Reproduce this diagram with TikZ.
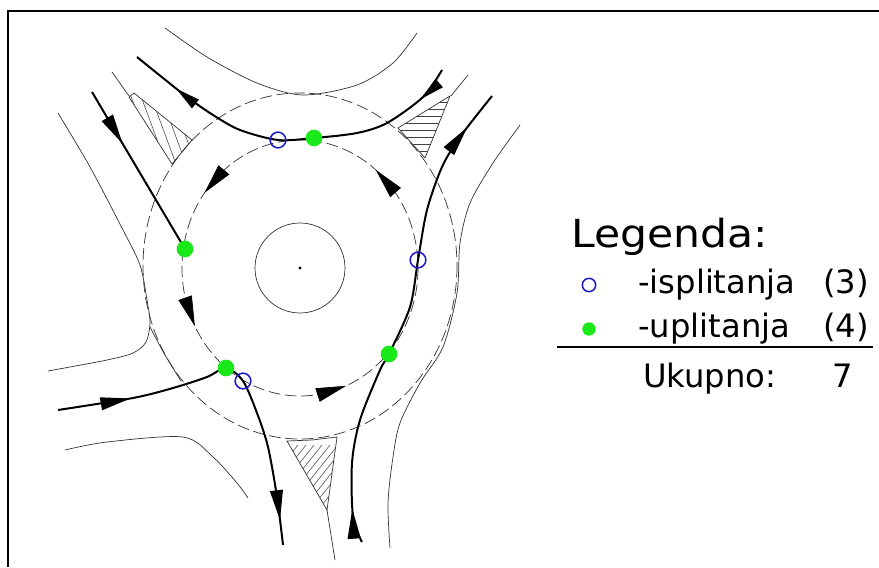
\documentclass[tikz,border=0pt]{standalone}
\usepackage{fontspec}
\setmainfont{DejaVu Sans}
\usetikzlibrary{arrows.meta,decorations.markings}

\definecolor{mergegreen}{RGB}{25,232,25}
\definecolor{splitblue}{RGB}{25,25,200}

\begin{document}
\begin{tikzpicture}[x=0.03cm, y=-0.03cm,
        road/.style = {black!80, line width=0.6pt},
        ring/.style = {black!80, line width=0.6pt, dash pattern=on 10pt off 4pt},
        hatch/.style = {black!75, line width=0.45pt},
        track/.style = {line width=1.7pt, postaction=decorate},
        split/.style = {circle, draw=splitblue, line width=1.3pt, inner sep=0pt, minimum size=0.47cm},
        merge/.style = {circle, fill=mergegreen, inner sep=0pt, minimum size=0.5cm},
        legtext/.style = {inner sep=0pt, font=\fontsize{27.5}{32}\selectfont},
        >={Triangle[length=0.9cm, width=0.38cm]}]
        \useasboundingbox (0,0) rectangle (879,567);

        % frame, top and left only
        \draw[line width=2.3pt] (8,567) -- (8,11) -- (879,11);

        %define centre and radii of the circulating lane
        \coordinate (O) at (300,268);
        \def\rx{118}
        \def\ry{128}

        % central island
        \draw[road] (O) circle [radius=45];
        \fill (O) circle [radius=1.6];

        % inner and outer edge of the lane
        \draw[ring] (O) ellipse [x radius=\rx, y radius=\ry];
        \draw[ring] (300,266) ellipse [x radius=157, y radius=173];

        % kerbs between the legs
        \draw[road] plot[smooth] coordinates {(165,28) (207,57) (257,83) (303,95) (357,85) (393,63) (417,33)};
        \draw[road] plot[smooth] coordinates {(58,113) (90,167) (122,228) (140,265) (147,300) (150,323) (146,342) (133,353) (107,360) (48,371)};
        \draw[road] plot[smooth] coordinates {(150,327) (165,355) (181,381)};
        \draw[road] plot[smooth] coordinates {(65,450) (107,442) (183,437) (213,457) (237,483) (248,498)};
        \draw[road] plot[smooth] coordinates {(520,125) (493,163) (470,203) (460,243) (457,293) (443,347) (420,383) (400,423) (393,457) (388,503) (390,548)};

        % dividing lines
        \draw[road] (112,72) -- (129,96);
        \draw[road] (468,75) -- (451,96);
        \draw[road] (327,510) -- (335,560);

        % splitter islands
        \draw[road] (129,97) -- (172,164) -- (192,140) -- (134,93) -- cycle;
        \begin{scope}
            \clip (129,97) -- (172,164) -- (192,140) -- (134,93) -- cycle;
            \foreach \i in {0,...,11}
                \draw[hatch] (95+\i*10,80) -- ++(45,122);
        \end{scope}
        \draw[road] (450,96) -- (398,128) -- (425,158) -- cycle;
        \begin{scope}
            \clip (450,96) -- (398,128) -- (425,158) -- cycle;
            \foreach \y in {102,109,...,158}
                \draw[hatch] (390,\y) -- (460,\y);
        \end{scope}
        \draw[road] (287,441) -- (312,440) -- (337,437) -- (327,510) -- cycle;
        \begin{scope}
            \clip (287,441) -- (312,440) -- (337,437) -- (327,510) -- cycle;
            \foreach \i in {0,...,14}
                \draw[hatch] (230+\i*8,520) -- ++(60,-75);
        \end{scope}

        % conflict points
        \coordinate (pSTop) at (278,140);
        \coordinate (pMTop) at (314,138);
        \coordinate (pMLeft) at (185,249);
        \coordinate (pSRight) at (418,260);
        \coordinate (pMWest) at (226,368);
        \coordinate (pSSouth) at (243,381);
        \coordinate (pMSouth) at (389,354);

        % vehicle paths
        \draw[track, decoration={markings,
                mark=at position 1.1cm with {\arrow{Triangle[length=0.75cm, width=0.32cm]}},
                mark=at position -1.5cm with {\arrow{Triangle[length=0.75cm, width=0.32cm]}}}]
            plot[smooth] coordinates {(442,70) (423,97) (387,123) (357,133) (pMTop) (pSTop) (240,130) (213,115) (187,97) (163,78) (137,57)};
        \draw[track, decoration={markings, mark=at position 1.8cm with {\arrow{>}}}]
            (92,92) -- (pMLeft);
        \draw[track, decoration={markings,
                mark=at position 2.2cm with {\arrow{>}},
                mark=at position -0.75cm with {\arrow{>}}}]
            plot[smooth] coordinates {(58,410) (133,398) (173,388) (207,377) (pMWest) (pSSouth) (257,413) (268,447) (277,497) (283,545)};
        \draw[track, decoration={markings,
                mark=at position 1.05cm with {\arrow{>}},
                mark=at position -1.2cm with {\arrow{>}}}]
            plot[smooth] coordinates {(362,542) (353,517) (352,463) (360,420) (380,370) (pMSouth) (410,307) (pSRight) (427,210) (442,167) (460,137) (492,96)};

        % direction on the circulating lane
        \foreach \a in {50,144,207,293}
            \draw[line width=0.6pt, -{Triangle[length=0.9cm, width=0.42cm]}]
                ({300+\rx*cos(\a-13)},{268-\ry*sin(\a-13)}) -- ({300+\rx*cos(\a)},{268-\ry*sin(\a)});

        % points
        \node[split] (splitTop) at (pSTop) {};
        \node[merge] (mergeTop) at (pMTop) {};
        \node[merge] (mergeLeft) at (pMLeft) {};
        \node[split] (splitRight) at (pSRight) {};
        \node[merge] (mergeWest) at (pMWest) {};
        \node[split] (splitSouth) at (pSSouth) {};
        \node[merge] (mergeSouth) at (pMSouth) {};

        % legend
        \node[anchor=base west, inner sep=0pt, font=\fontsize{33}{40}\selectfont, xscale=1.1, transform shape] (legTitle) at (571,247) {Legenda:};
        \node[split, minimum size=0.4cm] (keySplit) at (589,285) {};
        \node[legtext, anchor=base west] (splitText) at (638,293) {-isplitanja};
        \node[legtext, anchor=base east] (splitNum) at (869,293) {(3)};
        \node[merge, minimum size=0.4cm] (keyMerge) at (589,329) {};
        \node[legtext, anchor=base west] (mergeText) at (638,337) {-uplitanja};
        \node[legtext, anchor=base east] (mergeNum) at (869,337) {(4)};
        \coordinate (ruleL) at (557,347);
        \coordinate (ruleR) at (873,347);
        \draw[line width=1.5pt] (ruleL) -- (ruleR);
        \node[legtext, anchor=base west] (totalText) at (643,387) {Ukupno:};
        \node[legtext, anchor=base east] (totalNum) at (853,387) {7};
\end{tikzpicture}
\end{document}
